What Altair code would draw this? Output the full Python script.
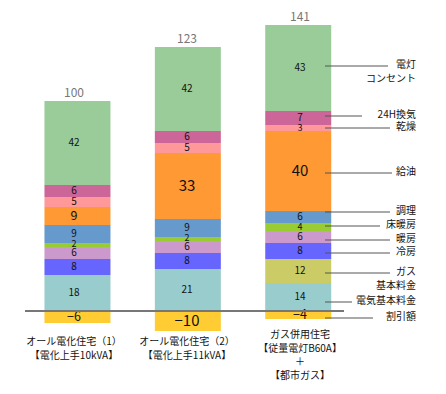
import altair as alt
import pandas as pd

# ---- data ----
house_lines = [
    ["オール電化住宅（1）", "【電化上手10kVA】"],
    ["オール電化住宅（2）", "【電化上手11kVA】"],
    ["ガス併用住宅", "【従量電灯B60A】", "＋", "【都市ガス】"],
]
totals = [100, 123, 141]

items = ["割引額", "電気基本料金", "ガス基本料金", "冷房", "暖房", "床暖房",
         "調理", "給油", "乾燥", "24H換気", "電灯コンセント"]
item_labels = [["割引額"], ["電気基本料金"], ["ガス", "基本料金"], ["冷房"], ["暖房"],
               ["床暖房"], ["調理"], ["給油"], ["乾燥"], ["24H換気"], ["電灯", "コンセント"]]
colors = ["#FFCC33", "#99CCCC", "#CCCC66", "#6666FF", "#CC99CC", "#99CC33",
          "#6699CC", "#FF9933", "#FF9999", "#CC6699", "#99CC99"]

vals_1 = [-6, 18, None, 8, 6, 2, 9, 9, 5, 6, 42]
vals_2 = [-10, 21, None, 8, 6, 2, 9, 33, 5, 6, 42]
vals_3 = [-4, 14, 12, 8, 6, 4, 6, 40, 3, 7, 43]
all_vals = [vals_1, vals_2, vals_3]

# annotation layout (page px): leader-line end and label row
line_end_px = [373, 352, 390, 390, 390, 380, 390, 392, 390, 362, 388]
label_y_px = [318, 302, 273, 253, 240, 226, 212, 173, 128, 116, 66]

FONT = "Noto Sans CJK JP"
OX, OY = 8, 8  # page margin

# ---- tables ----
rows = []
for h, vals in enumerate(all_vals):
    pos = 0
    for it, v in zip(items, vals):
        if v is None:
            continue
        if v >= 0:
            y0, y1 = pos, pos + v
            pos += v
        else:
            y0, y1 = v, 0
        big = it in ("給油", "割引額")
        fs = 15 if (big and abs(v) >= 10) else (12.5 if big else (9 if abs(v) <= 4 else 10))
        nudge = 0.75 if abs(v) <= 2 else 0
        rows.append(dict(idx=h, item=it, v=v, lab=str(v).replace("-", "−"),
                         y0=y0, y1=y1, ym=(y0 + y1) / 2 + nudge, fs=fs))
df = pd.DataFrame(rows)

tot_rows = []
for h, vals in enumerate(all_vals):
    top = sum(v for v in vals if v is not None and v > 0)
    tot_rows.append(dict(idx=h, top=top, t=str(totals[h])))
df_tot = pd.DataFrame(tot_rows)

df_cat = pd.DataFrame([dict(idx=h, lines=l, n=len(l)) for h, l in enumerate(house_lines)])

ann = []
for it, lab, le, ly in zip(items, item_labels, line_end_px, label_y_px):
    ann.append(dict(item=it, lines=lab, ay=ly - OY,
                    lx0=325 - OX, lx1=le - OX, tx=416 - OX))
df_ann = pd.DataFrame(ann)

xscale = alt.Scale(domain=[-0.584, 3.221], nice=False, zero=False)
yscale = alt.Scale(domain=[-37.5, 151.5], nice=False, zero=False)

bars = alt.Chart(df).mark_bar(size=66).encode(
    x=alt.X("idx:Q", scale=xscale, axis=None),
    y=alt.Y("y0:Q", scale=yscale, axis=None),
    y2="y1:Q",
    color=alt.Color("item:N", scale=alt.Scale(domain=items, range=colors), legend=None),
)

seg_text = alt.Chart(df).mark_text(baseline="middle", align="center", font=FONT, color="#111").encode(
    x=alt.X("idx:Q", scale=xscale, axis=None),
    y=alt.Y("ym:Q", scale=yscale, axis=None),
    text="lab:N",
    size=alt.Size("fs:Q", scale=None),
)

tot_text = alt.Chart(df_tot).mark_text(baseline="middle", align="center", font=FONT,
                                        color="#777", fontSize=12, dy=-8).encode(
    x=alt.X("idx:Q", scale=xscale, axis=None),
    y=alt.Y("top:Q", scale=yscale, axis=None),
    text="t:N",
)

base = alt.Chart(pd.DataFrame({"z": [0]})).mark_rule(color="#777", strokeWidth=2).encode(
    y=alt.Y("z:Q", scale=yscale, axis=None),
    x=alt.value(25 - OX), x2=alt.value(344 - OX),
)

cat12 = alt.Chart(df_cat).transform_filter("datum.n == 2").mark_text(
    baseline="top", align="center", font=FONT, fontSize=10, lineHeight=14, color="#111").encode(
    x=alt.X("idx:Q", scale=xscale, axis=None),
    y=alt.value(337 - OY),
    text="lines",
)
cat3 = alt.Chart(df_cat).transform_filter("datum.n == 4").mark_text(
    baseline="top", align="center", font=FONT, fontSize=10, lineHeight=13.7, color="#111").encode(
    x=alt.X("idx:Q", scale=xscale, axis=None),
    y=alt.value(330 - OY),
    text="lines",
)

ann_rule = alt.Chart(df_ann).mark_rule(color="#555", strokeWidth=1).encode(
    x=alt.X("lx0:Q", scale=None, axis=None),
    x2="lx1:Q",
    y=alt.Y("ay:Q", scale=None, axis=None),
)
ann_text = alt.Chart(df_ann).mark_text(baseline="top", align="right", font=FONT,
                                       fontSize=10, lineHeight=14, dy=-6, color="#111").encode(
    x=alt.X("tx:Q", scale=None, axis=None),
    y=alt.Y("ay:Q", scale=None, axis=None),
    text="lines",
)

chart = alt.layer(bars, seg_text, tot_text, base, cat12, cat3, ann_rule, ann_text).resolve_scale(
    x="independent", y="independent"
).properties(
    width=430, height=378, padding=0,
    autosize=alt.AutoSizeParams(type="none"),
).configure_view(stroke=None)

chart.save("out.html", embed_options={"renderer": "svg", "actions": False})
